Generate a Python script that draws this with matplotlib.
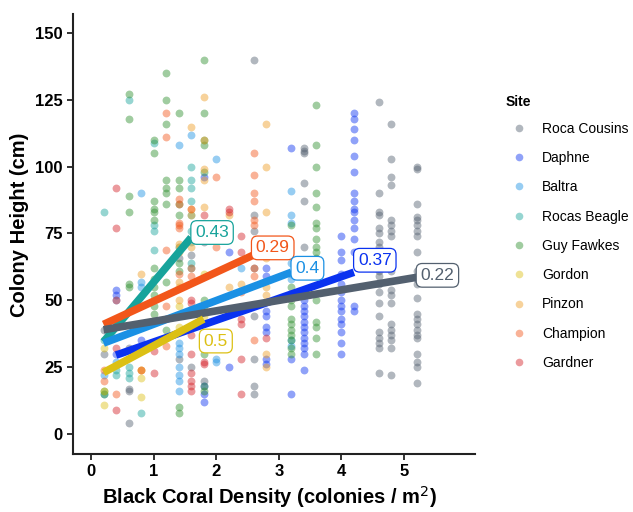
import matplotlib
matplotlib.use("Agg")
import matplotlib.pyplot as plt
from matplotlib.lines import Line2D

plt.rcParams['font.family'] = ['Liberation Sans', 'DejaVu Sans']

sites = ["Roca Cousins", "Daphne", "Baltra", "Rocas Beagle", "Guy Fawkes",
         "Gordon", "Pinzon", "Champion", "Gardner"]
colors = ["#53606F", "#0A32F0", "#1A90E4", "#17A39B", "#2E8F2E",
          "#DCC014", "#EE9D22", "#F2561A", "#D41F26"]

# data: density (x) -> list of colony heights (y), per site
roca_cousins = {0.2: [30, 39], 0.6: [32, 17, 16, 4], 1.4: [66, 28], 1.6: [25, 67],
                1.8: [20, 72], 2.6: [140, 82, 76, 62, 44, 28, 18, 15],
                3.4: [107, 106, 105, 94, 87, 70, 65],
                4.6: [124, 90, 83, 82, 77, 75, 72, 70, 65, 61, 59, 56, 53, 49, 44, 38, 36, 34, 32, 23],
                4.8: [116, 103, 96, 93, 80, 78, 76, 74, 65, 63, 61, 54, 52, 49, 41, 39, 37, 35, 32, 22],
                5.2: [100, 99, 86, 81, 80, 78, 76, 74, 68, 61, 58, 56, 51, 45, 43, 41, 39, 37, 36, 30, 27, 25, 19]}
daphne = {0.4: [54, 52, 50, 30], 0.8: [35], 1.8: [96, 18, 15, 12], 2.2: [68, 25],
          2.8: [62, 59, 46, 44, 40, 38, 28, 26], 3.2: [107, 28, 15],
          3.4: [63, 60, 54, 52, 50, 48, 46, 44, 42, 40, 38, 36, 34, 32, 30, 24],
          4.0: [74, 68, 65, 60, 56, 53, 50, 48, 46, 43, 41, 38, 34, 30],
          4.2: [120, 118, 114, 110, 104, 98, 90, 87, 84, 83, 80, 77, 73, 68, 48, 46]}
baltra = {0.2: [22, 15], 0.4: [27], 0.8: [90, 57, 55], 1.4: [108, 34, 32, 30, 25, 22, 20, 16],
          1.6: [112], 2.0: [103, 28, 27], 2.4: [62], 3.2: [91, 82, 79, 64, 60, 58, 35, 33]}
rocas_beagle = {0.2: [83, 35], 0.4: [24, 22], 0.6: [125, 25, 23, 21], 0.8: [8],
                1.0: [109, 78, 76, 69], 1.4: [70],
                1.6: [100, 95, 92, 87, 82, 76, 72, 64, 62]}
guy_fawkes = {0.2: [16, 15], 0.6: [127, 118, 89, 83, 56, 55],
              1.0: [110, 105, 87, 84, 83, 80, 62, 58, 55, 52, 48, 45],
              1.2: [135, 125, 116, 95, 92, 90, 86, 57, 39],
              1.4: [120, 95, 92, 86, 82, 64, 61, 10, 8],
              1.8: [140, 120, 110, 108, 98, 50, 48, 30, 18, 16],
              3.2: [78, 55, 52, 50, 48, 43, 41, 39, 37, 35, 32, 30],
              3.6: [123, 108, 100, 90, 85, 79, 77, 73, 70, 68, 66, 64, 50, 42, 40, 36, 30]}
gordon = {0.2: [32, 16, 11], 0.8: [24, 21, 14], 1.4: [48, 40], 1.8: [60, 44, 35]}
pinzon = {0.8: [60, 24], 1.4: [71, 70, 68, 57, 55, 50], 1.6: [115, 84, 82, 70],
          1.8: [126, 110, 99, 95, 85], 2.2: [82, 55], 2.4: [56],
          2.8: [116, 100, 83, 66, 55, 52, 30, 25]}
champion = {0.2: [24, 20], 0.4: [50, 15], 0.8: [24], 1.2: [120, 111, 69, 48, 33],
            1.4: [88, 86, 79, 78, 77, 60], 1.6: [84, 62, 59], 2.0: [96, 70], 2.4: [53],
            2.6: [105, 97, 90, 87, 80, 78, 62, 59, 35]}
gardner = {0.4: [92, 77, 32, 9], 1.0: [31, 23], 1.6: [50, 49, 37, 30, 23, 20, 18, 16],
           1.8: [82, 27, 26], 2.2: [84, 83], 2.4: [74, 68, 43, 41, 28, 15], 2.8: [36]}
site_data = [roca_cousins, daphne, baltra, rocas_beagle, guy_fawkes,
             gordon, pinzon, champion, gardner]

# fitted lines: site, x start, x end, y start, y end, label
fit_sites = ["Rocas Beagle", "Champion", "Baltra", "Daphne", "Roca Cousins", "Gordon"]
fit_x0 = [0.2, 0.2, 0.2, 0.4, 0.2, 0.2]
fit_x1 = [1.6, 2.6, 3.2, 4.2, 5.2, 1.8]
fit_y0 = [34.5, 41.0, 34.0, 29.5, 39.0, 23.0]
fit_y1 = [73.5, 67.0, 60.5, 60.5, 58.6, 43.0]
fit_labels = ["0.43", "0.29", "0.4", "0.37", "0.22", "0.5"]
label_offsets_px = [(4, 5), (2, 7), (4, 4), (4, 12), (4, 2), (0, -22)]

fig = plt.figure(figsize=(6.33, 5.12), dpi=100)
ax = fig.add_axes([73/633, 1-454/512, (475-73)/633, (454-14)/512])

for name, col, d in zip(sites, colors, site_data):
    xs = [x for x, ys in d.items() for _ in ys]
    ys = [y for _, ys_ in d.items() for y in ys_]
    ax.scatter(xs, ys, s=32, color=col, alpha=0.45, linewidths=0, zorder=2)

for i, name in enumerate(fit_sites):
    col = colors[sites.index(name)]
    ax.plot([fit_x0[i], fit_x1[i]], [fit_y0[i], fit_y1[i]], color=col, lw=5.5,
            solid_capstyle='butt', zorder=3)
for i, name in enumerate(fit_sites):
    col = colors[sites.index(name)]
    dx, dy = label_offsets_px[i]
    ax.annotate(fit_labels[i], xy=(fit_x1[i], fit_y1[i]),
                xytext=(dx * 0.72, dy * 0.72), textcoords='offset points',
                ha='left', va='center', fontsize=12.5, color=col, zorder=5,
                bbox=dict(boxstyle='round,pad=0.25,rounding_size=0.35', fc='white', ec=col, lw=0.9))

ax.set_xlim(-0.288, 6.134)
ax.set_ylim(-7.48, 157.1)
ax.set_xticks([0, 1, 2, 3, 4, 5])
ax.set_yticks([0, 25, 50, 75, 100, 125, 150])
for lab in ax.get_xticklabels() + ax.get_yticklabels():
    lab.set_fontweight('bold')
ax.tick_params(axis='both', labelsize=12, length=4, width=1.3, colors='#222222', labelcolor='black')
for s in ['top', 'right']:
    ax.spines[s].set_visible(False)
for s in ['left', 'bottom']:
    ax.spines[s].set_linewidth(1.5)
    ax.spines[s].set_color('#222222')

ax.set_xlabel("Black Coral Density (colonies / m$^2$)", fontsize=14.5, fontweight='bold', labelpad=3)
ax.set_ylabel("Colony Height (cm)", fontsize=14.5, fontweight='bold', labelpad=4)
ax.xaxis.set_label_coords((270-73)/(475-73), -(497-454)/(454-14), transform=ax.transAxes)
ax.xaxis.label.set_va('center')
ax.yaxis.set_label_coords(-(73-20)/(475-73), (454-225)/(454-14), transform=ax.transAxes)
ax.yaxis.label.set_va('center')

handles = [Line2D([], [], marker='o', linestyle='none', markersize=5.5,
                  markerfacecolor=c, markeredgewidth=0, alpha=0.45) for c in colors]
leg = fig.legend(handles, sites, title="Site", loc='upper left',
                 bbox_to_anchor=(493/633, 1-83/512), frameon=False, fontsize=10,
                 title_fontproperties={'weight': 'bold', 'size': 10},
                 labelspacing=1.1, handletextpad=0.65, handlelength=2.0,
                 alignment='left')
leg._legend_box.sep = 8.8

fig.savefig("out.png", dpi=100)
